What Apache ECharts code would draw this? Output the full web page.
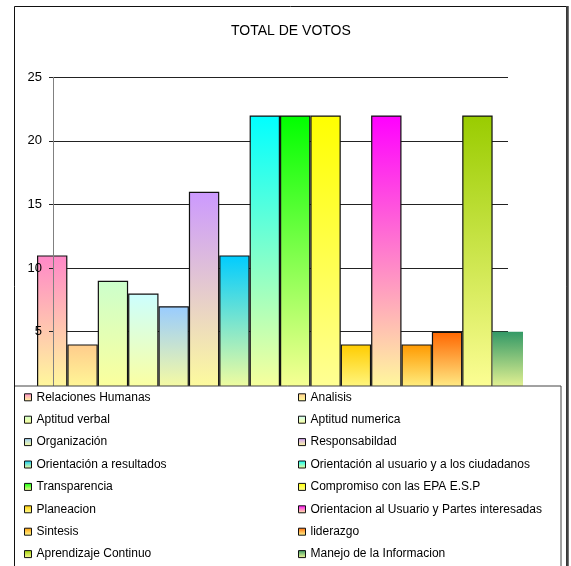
<!DOCTYPE html>
<html>
<head>
<meta charset="utf-8">
<script src="https://cdn.jsdelivr.net/npm/echarts@6/dist/echarts.min.js"></script>
<style>
  html, body { margin: 0; padding: 0; background: #fff; }
  #chart { width: 571px; height: 566px; }
</style>
</head>
<body>
<div id="chart"></div>
<script>
// Competencias evaluadas (one bar each)
const competencias = [
  'Relaciones Humanas', 'Analisis',
  'Aptitud verbal', 'Aptitud numerica',
  'Organización', 'Responsabildad',
  'Orientación a resultados', 'Orientación al usuario y a los ciudadanos',
  'Transparencia', 'Compromiso con las EPA E.S.P',
  'Planeacion', 'Orientacion al Usuario y Partes interesadas',
  'Sintesis', 'liderazgo',
  'Aprendizaje Continuo', 'Manejo de la Informacion'
];
// Total de votos por competencia
const votos = [11, 4, 9, 8, 7, 16, 11, 22, 22, 22, 4, 22, 4, 5, 22, 5];
// Top colour of each bar's fill gradient (fades to pale yellow at the base)
const coloresSuperiores = [
  '#ff88c8', '#ffcc8c', '#ccffcc', '#ccffff',
  '#99ccff', '#cc99ff', '#00ccff', '#00ffff',
  '#00ff00', '#ffff00', '#ffcc00', '#ff00ff',
  '#ff9900', '#ff6600', '#99cc00', '#339966'
];
const colorBase = '#ffff99';
// Value axis ticks
const ejeMin = 0, ejeMax = 25, ejeIntervalo = 5;

const FONT = 'Liberation Sans, Arial, sans-serif';

const chart = echarts.init(document.getElementById('chart'), null, { renderer: 'canvas' });

function relleno(top) {
  return new echarts.graphic.LinearGradient(0, 0, 0, 1, [
    { offset: 0, color: top },
    { offset: 1, color: colorBase }
  ]);
}

const series = competencias.map((nombre, i) => ({
  name: nombre,
  type: 'bar',
  xAxisIndex: 1,
  yAxisIndex: 1,
  barGap: '0%',
  barCategoryGap: '0%',
  data: [votos[i]],
  itemStyle: {
    color: relleno(coloresSuperiores[i]),
    borderColor: '#111',
    borderWidth: i === competencias.length - 1 ? 0 : 1.2
  },
  emphasis: { disabled: true },
  z: 2
}));

// Legend entries with the same gradient swatch as the bars
function entrada(nombre) {
  const i = competencias.indexOf(nombre);
  return {
    name: nombre,
    itemStyle: { color: relleno(coloresSuperiores[i]), borderColor: '#111', borderWidth: 1 }
  };
}
const izquierda = competencias.filter((_, i) => i % 2 === 0).map(entrada);
const derecha = competencias.filter((_, i) => i % 2 === 1).map(entrada);

const leyendaBase = {
  orient: 'vertical',
  top: 390.3,
  padding: 0,
  itemWidth: 7,
  itemHeight: 7,
  itemGap: 8.4,
  icon: 'rect',
  selectedMode: false,
  z: 20,
  itemStyle: { borderColor: '#111', borderWidth: 1 },
  textStyle: { fontFamily: FONT, fontSize: 12, color: '#000', lineHeight: 14 }
};

const option = {
  animation: false,
  backgroundColor: '#fff',
  title: {
    text: 'TOTAL DE VOTOS',
    left: 231,
    top: 24,
    padding: 0,
    textStyle: { fontFamily: FONT, fontSize: 14, fontWeight: 'normal', color: '#000' }
  },
  legend: [
    Object.assign({}, leyendaBase, { left: 24, data: izquierda }),
    Object.assign({}, leyendaBase, { left: 298, data: derecha })
  ],
  grid: [
    // axis and gridlines
    { left: 53, right: 63, top: 77.3, bottom: 170.7 },
    // bars
    { left: 37, right: 48, top: 77.3, bottom: 170.7 }
  ],
  xAxis: [
    { gridIndex: 0, type: 'category', data: [''], show: false },
    { gridIndex: 1, type: 'category', data: ['TOTAL'], show: false }
  ],
  yAxis: [
    {
      // gridlines behind the bars
      gridIndex: 0, type: 'value', min: ejeMin, max: ejeMax, interval: ejeIntervalo,
      z: 0,
      axisLine: { show: false },
      axisTick: { show: false },
      axisLabel: { show: false },
      splitLine: { show: true, lineStyle: { color: '#222', width: 1 } }
    },
    {
      gridIndex: 1, type: 'value', min: ejeMin, max: ejeMax, interval: ejeIntervalo,
      show: false
    },
    {
      // axis line, ticks and labels drawn above the bars
      gridIndex: 0, type: 'value', min: ejeMin, max: ejeMax, interval: ejeIntervalo,
      position: 'left', offset: 0, z: 5,
      axisLine: { show: true, onZero: false, lineStyle: { color: '#808080', width: 1 } },
      axisTick: { show: true, length: 4, lineStyle: { color: '#222', width: 1 } },
      axisLabel: {
        margin: 11, fontFamily: FONT, fontSize: 13, color: '#000',
        formatter: v => (v === 0 ? '' : String(v))
      },
      splitLine: { show: false }
    }
  ],
  graphic: [
    {
      type: 'rect', z: 10, silent: true,
      shape: { x: 14.5, y: 386, width: 546.5, height: 200 },
      style: { fill: '#fff', stroke: '#444', lineWidth: 1 }
    },
    {
      type: 'rect', z: 11, silent: true,
      shape: { x: 14.5, y: 6.5, width: 552, height: 600 },
      style: { fill: 'none', stroke: '#111', lineWidth: 1 }
    },
    {
      type: 'line', z: 11, silent: true,
      shape: { x1: 567.5, y1: 6, x2: 567.5, y2: 566 },
      style: { stroke: '#444', lineWidth: 2.5 }
    }
  ],
  series: series
};

chart.setOption(option);
</script>
</body>
</html>
